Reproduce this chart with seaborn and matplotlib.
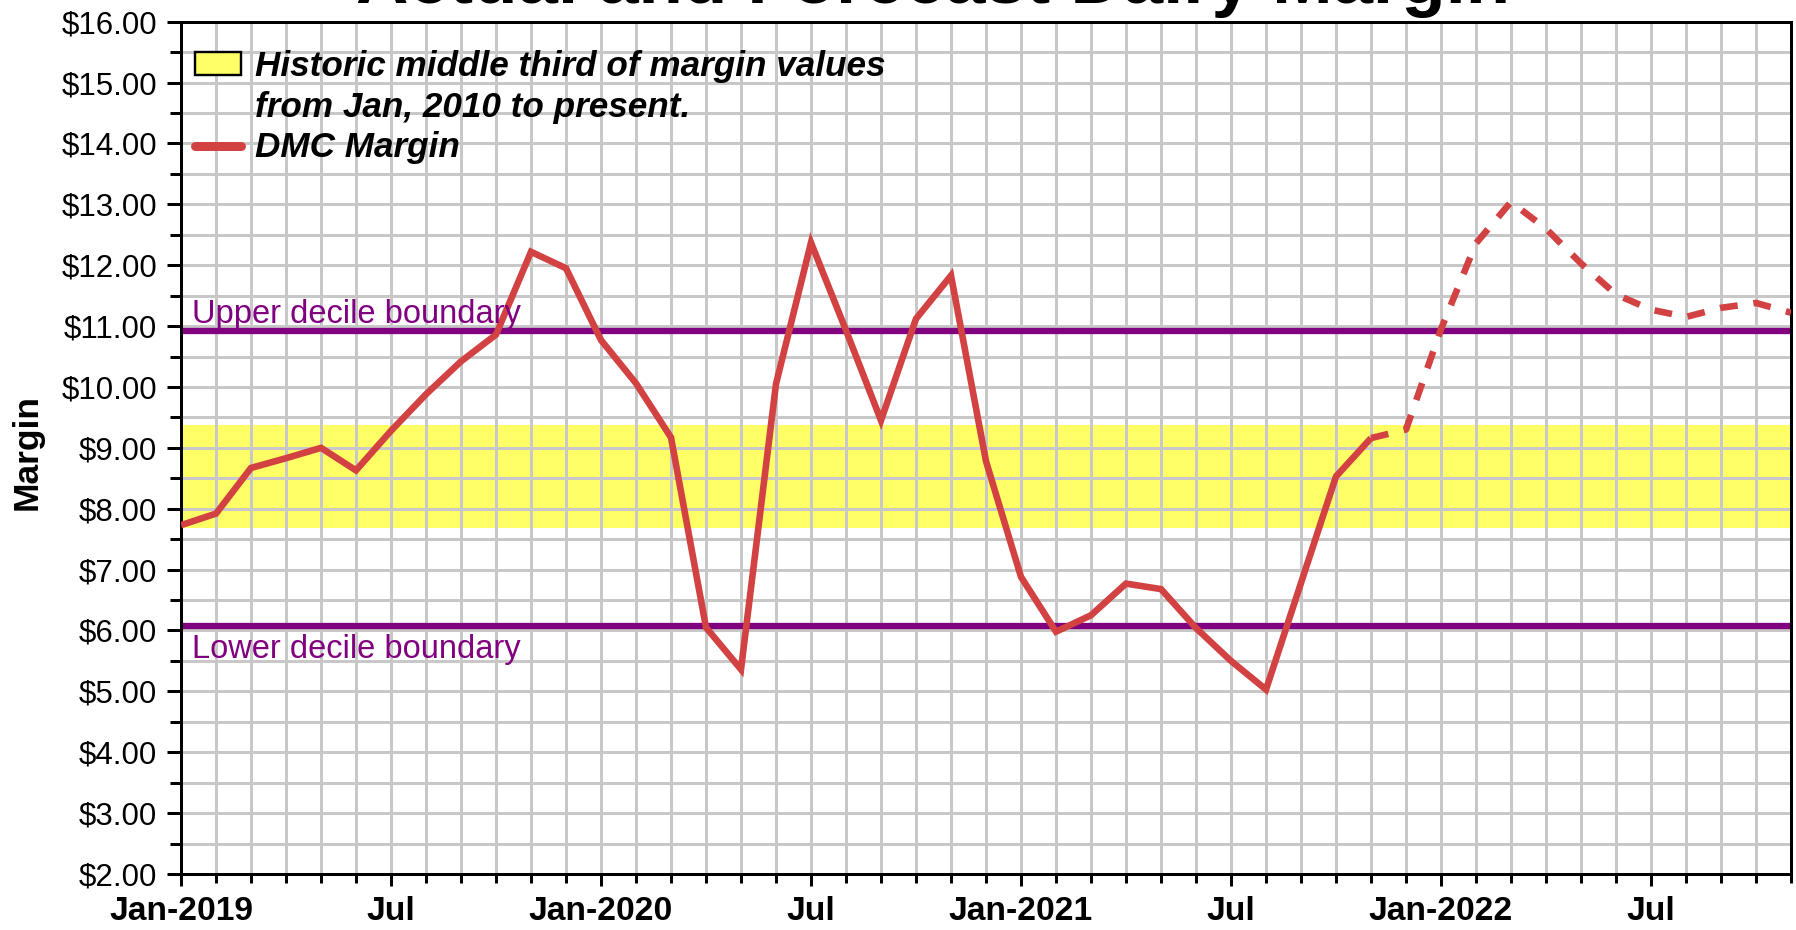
import pandas as pd
import matplotlib
matplotlib.use("Agg")
import matplotlib.pyplot as plt
from matplotlib.patches import Patch
from matplotlib.lines import Line2D
from matplotlib.ticker import MultipleLocator, FuncFormatter
import seaborn as sns

# ---- data -----------------------------------------------------------------
title = "Actual and Forecast Dairy Margin"

# DMC margin, monthly, Jan 2019 - Nov 2021 (actual)
actual_start = "2019-01"
actual_margin = [7.73, 7.92, 8.67, 8.83, 9.00, 8.63, 9.28, 9.88, 10.42, 10.86,
                 12.22, 11.95, 10.77, 10.06, 9.17, 6.05, 5.36, 10.05, 12.37, 10.93,
                 9.45, 11.12, 11.83, 8.78, 6.88, 5.98, 6.25, 6.77, 6.68, 6.04,
                 5.50, 5.03, 6.78, 8.53, 9.16]

# DMC margin forecast, monthly, Nov 2021 - Nov 2022
forecast_start = "2021-11"
forecast_margin = [9.16, 9.30, 10.95, 12.36, 13.04, 12.60, 12.03, 11.52,
                   11.27, 11.15, 11.30, 11.38, 11.22]

# historic middle third of margins (Jan 2010 - present) and decile bounds
middle_third = [7.68, 9.37]
upper_decile = 10.92
lower_decile = 6.07

x_tick_labels = ["Jan-2019", "Jul", "Jan-2020", "Jul",
                 "Jan-2021", "Jul", "Jan-2022", "Jul"]
legend_labels = ["Historic middle third of margin values",
                 "from Jan, 2010 to present.",
                 "DMC Margin"]
upper_label = "Upper decile boundary"
lower_label = "Lower decile boundary"
y_label = "Margin"

# ---- frames ------------------------------------------------------------------
origin = pd.Period(actual_start, freq="M")


def month_frame(start, values):
    periods = pd.period_range(start, periods=len(values), freq="M")
    idx = [(p - origin).n for p in periods]
    return pd.DataFrame({"month": idx, "margin": values})


actual_df = month_frame(actual_start, actual_margin)
forecast_df = month_frame(forecast_start, forecast_margin)
last_month = int(forecast_df["month"].max())

# ---- styling -----------------------------------------------------------------
sns.set_style("white")
plt.rcParams["font.family"] = ["Liberation Sans", "DejaVu Sans"]
plt.rcParams.update({"text.color": "black", "axes.labelcolor": "black",
                     "xtick.color": "black", "ytick.color": "black"})

PX = 0.72  # points per pixel at 100 dpi
RED = "#D24242"
PURPLE = "#800080"
YELLOW = "#FFFF66"
GRID = "#C8C8C8"

fig, ax = plt.subplots(figsize=(17.96, 9.30), dpi=100)
fig.subplots_adjust(left=181 / 1796, right=1791 / 1796,
                    bottom=1 - 874 / 930, top=1 - 21.7 / 930)

ax.set_axisbelow(True)
ax.axhspan(middle_third[0], middle_third[1], color=YELLOW, lw=0, zorder=0.1)

ax.axhline(upper_decile, color=PURPLE, lw=6.3 * PX, zorder=2)
ax.axhline(lower_decile, color=PURPLE, lw=6.3 * PX, zorder=2)

sns.lineplot(data=actual_df, x="month", y="margin", ax=ax, color=RED,
             lw=6.6 * PX, zorder=3, solid_joinstyle="miter",
             solid_capstyle="butt")
sns.lineplot(data=forecast_df, x="month", y="margin", ax=ax, color=RED,
             lw=6.6 * PX, zorder=3, linestyle=(0, (2.7, 2.4)),
             dash_capstyle="butt")

# decile annotations
ax.annotate(upper_label, xy=(0.31, upper_decile), xytext=(0, 8 * PX),
            textcoords="offset points", ha="left", va="baseline",
            fontsize=23.5, color=PURPLE, zorder=4)
ax.annotate(lower_label, xy=(0.31, lower_decile), xytext=(0, -8 * PX),
            textcoords="offset points", ha="left", va="top",
            fontsize=23.5, color=PURPLE, zorder=4)

# axes ranges and ticks
ax.set_xlim(0, last_month)
ax.set_ylim(2, 16)
ax.set_xticks(range(0, last_month, 6), x_tick_labels,
              fontsize=24.2, fontweight="bold", color="black")
ax.xaxis.set_minor_locator(MultipleLocator(1))
ax.yaxis.set_major_locator(MultipleLocator(1))
ax.yaxis.set_minor_locator(MultipleLocator(0.5))
ax.yaxis.set_major_formatter(FuncFormatter(lambda v, _: "\\$%.2f" % v))
ax.tick_params(axis="y", which="major", direction="out", length=14 * PX,
               width=3 * PX, color="black", labelcolor="black",
               labelsize=22.5, pad=7, left=True)
ax.tick_params(axis="y", which="minor", direction="out", length=11 * PX,
               width=3 * PX, color="black", left=True)
ax.tick_params(axis="x", which="major", direction="out", length=12 * PX,
               width=3 * PX, color="black", labelcolor="black",
               pad=7.5, bottom=True)
ax.tick_params(axis="x", which="minor", direction="out", length=9 * PX,
               width=3 * PX, color="black", bottom=True)

ax.grid(which="both", color=GRID, lw=3 * PX)
for side in ax.spines.values():
    side.set_visible(True)
    side.set_color("black")
    side.set_linewidth(3 * PX)

ax.set_xlabel("")
ax.set_ylabel(y_label, fontsize=25.5, fontweight="bold", color="black")
ax.yaxis.label.set_verticalalignment("center")
ax.yaxis.set_label_coords((27 - 181) / 1610, 0.495)

# legend
handles = [Patch(facecolor=YELLOW, edgecolor="black", linewidth=2.4 * PX),
           Patch(facecolor="none", edgecolor="none"),
           Line2D([], [], color=RED, lw=9 * PX)]
leg = ax.legend(handles, legend_labels, loc="upper left",
                bbox_to_anchor=(14 / 1610, (874 - 50) / 852.3),
                frameon=False, borderpad=0, borderaxespad=0,
                handlelength=1.32, handleheight=0.63, handletextpad=0.38,
                labelspacing=0.22,
                prop={"weight": "bold", "style": "italic", "size": 25.3})
for t in leg.get_texts():
    t.set_color("black")

# title sits at the very top edge of the canvas
fig.text(933.5 / 1796, 1 - 3 / 930, title, ha="center", va="baseline",
         fontsize=52.3, fontweight="bold", color="black")

fig.savefig("out.png", dpi=100)
